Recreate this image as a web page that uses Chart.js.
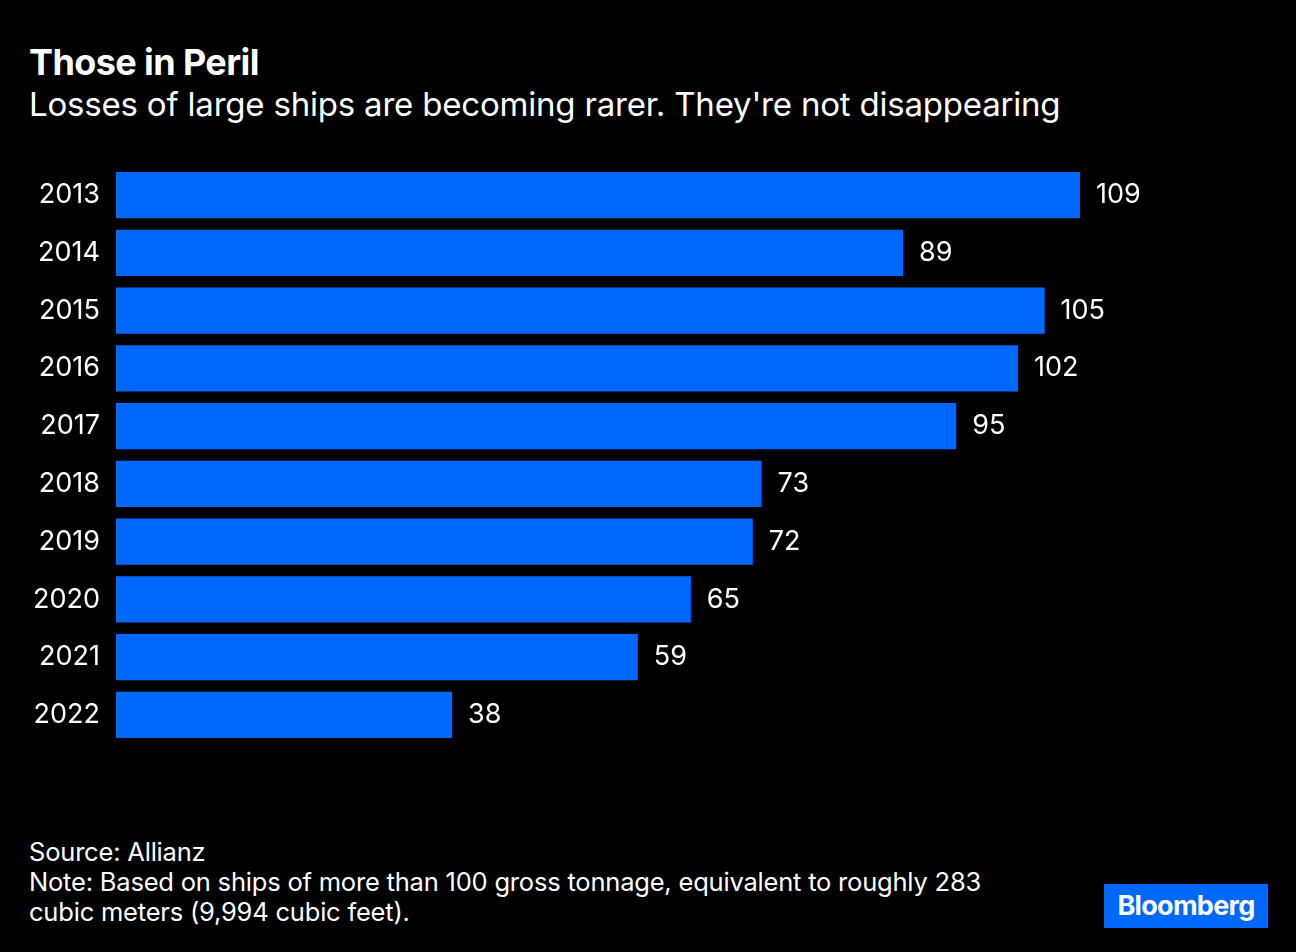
<!DOCTYPE html>
<html>
<head>
<meta charset="utf-8">
<script src="https://cdn.jsdelivr.net/npm/chart.js@4"></script>
<style>
  body { margin: 0; background: #000; width: 1296px; height: 952px; overflow: hidden; font-family: Inter, "Liberation Sans", sans-serif; color: #fff; }
  #title { position: absolute; left: 29px; top: 40px; font-size: 36px; font-weight: 700; letter-spacing: -0.6px; }
  #sub { position: absolute; left: 29px; top: 84px; font-size: 33px; letter-spacing: -0.2px; }
  #wrap { position: absolute; left: 0; top: 142px; width: 1296px; height: 626px; }
  #foot { position: absolute; left: 29px; top: 837px; font-size: 25.5px; line-height: 30px; letter-spacing: -0.2px; }
  #logo { position: absolute; left: 1104px; top: 884px; width: 164px; height: 44px; background: #0068ff; font-weight: 700; font-size: 27px; text-align: center; line-height: 44px; letter-spacing: -0.7px; }
</style>
</head>
<body>
<div id="title">Those in Peril</div>
<div id="sub">Losses of large ships are becoming rarer. They're not disappearing</div>
<div id="wrap"><canvas id="c"></canvas></div>
<div id="foot">Source: Allianz<br>Note: Based on ships of more than 100 gross tonnage, equivalent to roughly 283<br>cubic meters (9,994 cubic feet).</div>
<div id="logo">Bloomberg</div>
<script>
const anos = ['2013', '2014', '2015', '2016', '2017', '2018', '2019', '2020', '2021', '2022'];
const perdas = [109, 89, 105, 102, 95, 73, 72, 65, 59, 38];

// rótulos de valor no fim de cada barra
const rotulos = {
  id: 'rotulos',
  afterDatasetsDraw(chart) {
    const ctx = chart.ctx;
    ctx.save();
    ctx.fillStyle = '#fff';
    ctx.font = '27px Inter, "Liberation Sans", sans-serif';
    ctx.textBaseline = 'middle';
    chart.getDatasetMeta(0).data.forEach((bar, i) => {
      ctx.fillText(String(perdas[i]), bar.x + 16, bar.y);
    });
    ctx.restore();
  }
};

new Chart(document.getElementById('c'), {
  type: 'bar',
  data: {
    labels: anos,
    datasets: [{ data: perdas, backgroundColor: '#0068ff', barPercentage: 0.8, categoryPercentage: 1 }]
  },
  options: {
    indexAxis: 'y',
    responsive: true,
    maintainAspectRatio: false,
    animation: false,
    layout: { padding: { top: 17, bottom: 6, right: 48 } },
    scales: {
      x: { display: false, min: 0, max: 128 },
      y: {
        grid: { display: false },
        border: { display: false },
        afterFit(axis) { axis.width = 116; },
        ticks: { color: '#fff', padding: 8, font: { size: 27, family: 'Inter, "Liberation Sans", sans-serif' } }
      }
    },
    plugins: { legend: { display: false }, tooltip: { enabled: false } }
  },
  plugins: [rotulos]
});
</script>
</body>
</html>
